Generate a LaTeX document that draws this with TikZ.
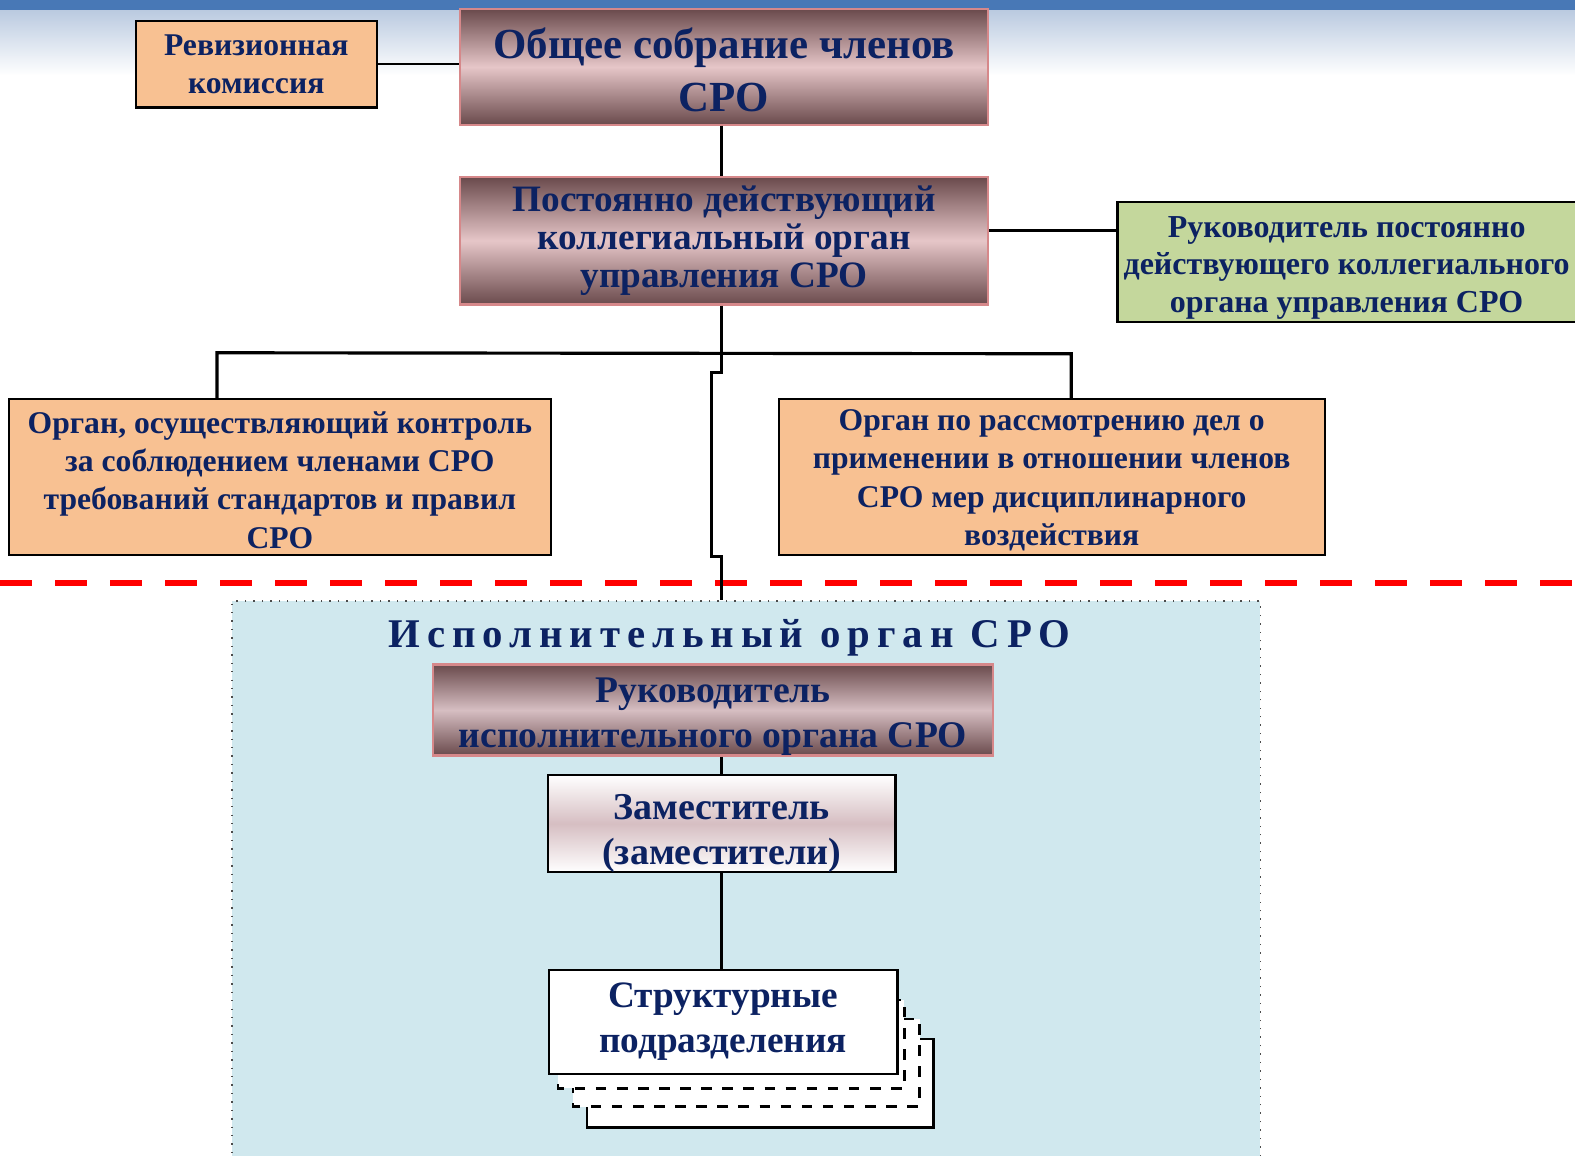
\documentclass[tikz,border=0pt]{standalone}
\usepackage{fontspec}
\setmainfont{Liberation Serif}
\newfontfamily\spacedfont[LetterSpace=17]{Liberation Serif}
\usepackage{tikz}
\usetikzlibrary{positioning}
\usepackage{xcolor}
\definecolor{srotext}{RGB}{12,34,98}
\definecolor{peach}{RGB}{248,193,146}
\definecolor{sage}{RGB}{196,215,156}
\definecolor{mauvedark}{RGB}{106,74,76}
\definecolor{mauvelight}{RGB}{230,198,200}
\definecolor{mauvemid}{RGB}{214,190,194}
\definecolor{mauveline}{RGB}{214,136,138}
\definecolor{execfill}{RGB}{208,232,238}
\definecolor{topblue}{RGB}{72,120,182}
\definecolor{topfade}{RGB}{186,202,224}
\tikzset{%
	every unit/.style={
		draw,
		rectangle,
		align=center,
		inner sep=0pt,
		line width=0.6pt,
		text=srotext
	},
	peach unit/.style={
		every unit,
		fill=peach
	},
	mauve unit/.style={
		every unit,
		draw=mauveline,
		top color=mauvedark,
		bottom color=mauvedark,
		middle color=mauvelight
	},
	link/.style={
		line width=0.9pt
	},
}

\begin{document}
\begin{tikzpicture}[
				x=0.1005mm, y=-0.1005mm,
				every node/.style={font=\bfseries}
				]
				\useasboundingbox (0,0) rectangle (1567.2,1150.2);
				% heading band
				\fill[topblue] (0,0) rectangle (1567.2,10);
				\shade[top color=topfade, bottom color=white] (0,10) rectangle (1567.2,75);
				
				\node[mauve unit, minimum width=52.76mm, minimum height=11.56mm,
					font=\fontsize{12.2}{15.2}\selectfont\bfseries] (meeting) at (720.5,66.5)
					{\rule{0pt}{3.7mm}Общее собрание членов\\СРО};
				\node[peach unit, minimum width=24.12mm, minimum height=8.64mm,
					font=\fontsize{9}{10.8}\selectfont\bfseries] (audit) at (255,64)
					{Ревизионная\\комиссия};
				\node[mauve unit, minimum width=52.76mm, minimum height=12.76mm,
					font=\fontsize{10.6}{10.9}\selectfont\bfseries] (board) at (720.5,239.5)
					{Постоянно действующий\\коллегиальный орган\\управления СРО};
				\node[peach unit, fill=sage, minimum width=45.83mm, minimum height=11.96mm,
					font=\fontsize{9.1}{10.6}\selectfont\bfseries] (chair) at (1340,260.5)
					{\rule{0pt}{3.3mm}Руководитель постоянно\\действующего коллегиального\\органа управления СРО};
				\node[peach unit, minimum width=54.17mm, minimum height=15.58mm,
					font=\fontsize{9}{10.9}\selectfont\bfseries] (control) at (278.5,474.5)
					{\rule{0pt}{2.8mm}Орган, осуществляющий контроль\\за соблюдением членами СРО\\требований стандартов и правил\\СРО};
				\node[peach unit, minimum width=54.57mm, minimum height=15.58mm,
					font=\fontsize{9}{10.9}\selectfont\bfseries] (discipline) at (1046.5,474.5)
					{\rule{0pt}{2.8mm}Орган по рассмотрению дел о\\применении в отношении членов\\СРО мер дисциплинарного\\воздействия};
				
				\draw[red, line width=1.7pt, dash pattern=on 3.2mm off 2.3mm] (0,580) -- (1567.2,580);
				
				% executive part
				\node[draw=black!70, dotted, fill=execfill, minimum width=102.8mm, minimum height=57.3mm,
					inner sep=0pt] (exec) at (742.5,883) {};
				\node[text=srotext, font=\spacedfont\bfseries\fontsize{11.6}{14}\selectfont] (title) at (726,635)
					{Исполнительный орган СРО};
				\node[mauve unit, middle color=mauvemid, minimum width=55.98mm, minimum height=8.94mm,
					font=\fontsize{10.7}{12.8}\selectfont\bfseries] (head) at (709.5,706.5)
					{\rule{0pt}{3.8mm}Руководитель\\исполнительного органа СРО};
				\node[every unit, top color=white, bottom color=white, middle color=mauvemid,
					minimum width=34.77mm, minimum height=8.94mm,
					font=\fontsize{10.8}{12.8}\selectfont\bfseries] (deputy) at (718,819.5)
					{\rule{0pt}{4.4mm}Заместитель\\(заместители)};
				% stacked units
				\draw[fill=white, line width=0.7pt] (584,1034) rectangle (929,1122);
				\draw[fill=white, line width=0.7pt, dashed] (570,1014) rectangle (915,1101);
				\draw[fill=white, line width=0.7pt, dashed] (555,995) rectangle (900,1083);
				\node[every unit, fill=white, minimum width=34.87mm, minimum height=10.45mm,
					font=\fontsize{10.6}{12.8}\selectfont\bfseries] (units) at (719.5,1017)
					{Структурные\\подразделения};
				
				% connectors
				\coordinate (barleft) at (216,351);
				\coordinate (barright) at (1066,352);
				\draw[link, line width=0.6pt] (audit.east) -- (audit.east -| meeting.west);
				\draw[link] (meeting.south -| 718,0) -- (board.north -| 718,0);
				\draw[link] (board.east |- 0,229) -- (chair.west |- 0,229);
				\draw[link] (barleft |- control.north) -- (barleft) -- (barright) -- (barright |- discipline.north);
				\draw[link] (board.south -| 718,0) -- ++(0,67) -- ++(-10,0) -- ++(0,183) -- ++(10,0)
					-- (exec.north -| 718,0);
				\draw[link] (head.south -| 718,0) -- (deputy.north -| 718,0);
				\draw[link] (deputy.south -| 718,0) -- (units.north -| 718,0);
			\end{tikzpicture}
\end{document}
